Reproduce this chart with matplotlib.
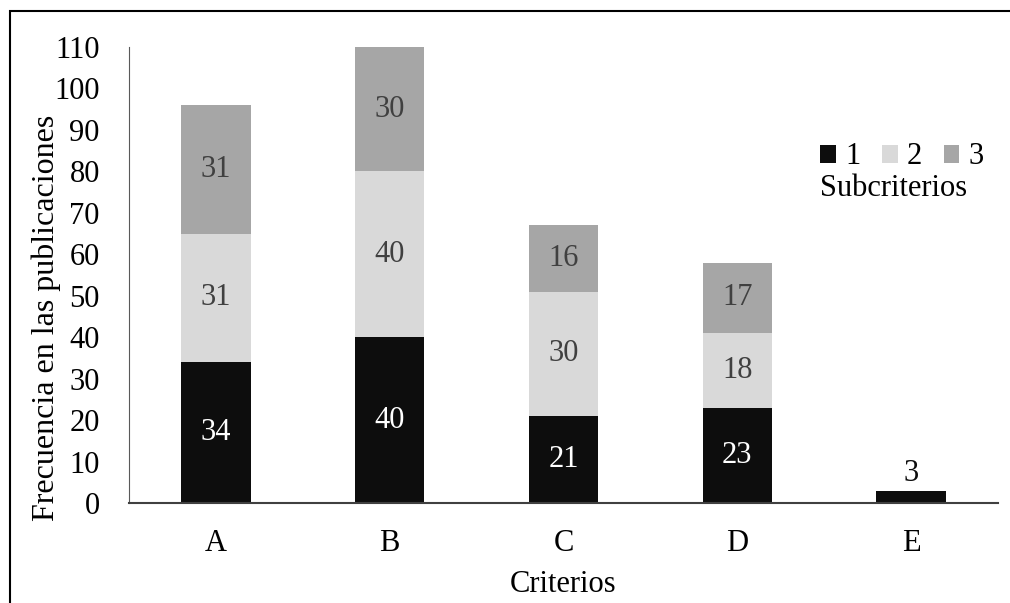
import matplotlib.pyplot as plt
import matplotlib.patches as patches
import numpy as np

plt.rcParams['font.family'] = ['Liberation Serif', 'DejaVu Serif']

criterios = ['A', 'B', 'C', 'D', 'E']
sub1 = [34, 40, 21, 23, 3]
sub2 = [31, 40, 30, 18, 0]
sub3 = [31, 30, 16, 17, 0]
colores = ['#0d0d0d', '#d9d9d9', '#a6a6a6']
nombres = ['1', '2', '3']

fig = plt.figure(figsize=(10.10, 6.03), dpi=100)
ax = fig.add_axes([129 / 1010, 1 - 503 / 603, 869 / 1010, 456 / 603])

x = np.arange(len(criterios))
abajo = np.zeros(len(criterios))
for serie, color, nombre in zip([sub1, sub2, sub3], colores, nombres):
    vals = np.array(serie, dtype=float)
    ax.bar(x, vals, 0.4, bottom=abajo, color=color, label=nombre)
    for i, v in enumerate(vals):
        if v == 0:
            continue
        if v < 5:
            ax.text(x[i], abajo[i] + v + 0.6, f'{int(v)}', ha='center', va='bottom',
                    fontsize=22, color='#0d0d0d')
        else:
            c = 'white' if color == '#0d0d0d' else '#404040'
            ax.text(x[i], abajo[i] + v / 2, f'{int(v)}', ha='center', va='center',
                    fontsize=22, color=c)
    abajo += vals

ax.set_xlim(-0.5, len(criterios) - 0.5)
ax.set_ylim(0, 110)
ax.set_yticks(np.arange(0, 111, 10))
ax.set_xticks(x)
ax.set_xticklabels(criterios)
ax.tick_params(length=0, labelsize=22, colors='black')
ax.tick_params(axis='x', pad=19)
ax.tick_params(axis='y', pad=21)
for s in ['top', 'right']:
    ax.spines[s].set_visible(False)
ax.spines['left'].set_color('#595959')
ax.spines['bottom'].set_color('#404040')
ax.spines['bottom'].set_linewidth(1.5)

fig.text(46 / 1010, 1 - 318 / 603, 'Frecuencia en las publicaciones', rotation=90,
         ha='center', va='center', fontsize=23)
fig.text(563 / 1010, 1 - 585 / 603, 'Criterios', ha='center', va='center', fontsize=22)

leg = ax.legend(loc='center', bbox_to_anchor=(902 / 1010, 1 - 157 / 603),
                bbox_transform=fig.transFigure, ncol=3, frameon=False,
                fontsize=22, handlelength=0.52, handleheight=0.52,
                handletextpad=0.3, columnspacing=0.7, borderpad=0)
fig.text(894 / 1010, 1 - 189 / 603, 'Subcriterios', ha='center', va='center', fontsize=22)

borde = patches.Rectangle((10 / 1010, -0.1), 1.1, 1 - 11 / 603 + 0.1, transform=fig.transFigure,
                          fill=False, edgecolor='black', linewidth=1.5)
fig.patches.append(borde)

fig.savefig('out.png', dpi=100)
